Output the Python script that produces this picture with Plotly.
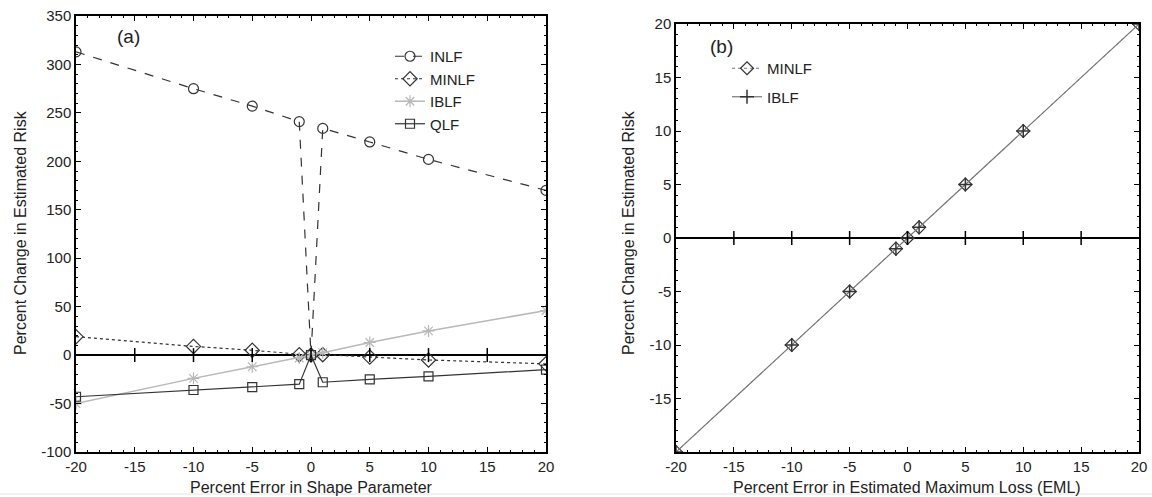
import plotly.graph_objects as go

# ---------------- data ----------------
x_shape = [-20, -10, -5, -1, 0, 1, 5, 10, 20]
inlf = [313, 275, 257, 241, 0, 234, 220, 202, 170]
minlf = [19, 9, 5, 0.5, 0, 0.5, -2, -5, -9]
iblf = [-50, -24, -12, -3, 0, 2.5, 13, 25, 46]
qlf = [-43, -36, -33, -30, 0, -28, -25, -22, -15]

x_eml = [-20, -10, -5, -1, 0, 1, 5, 10, 20]
minlf_b = [-20, -10, -5, -1, 0, 1, 5, 10, 20]
iblf_b = [-20, -10, -5, -1, 0, 1, 5, 10, 20]

zero_ticks = [-15, -10, -5, 0, 5, 10, 15]
ya_ticks = [-100, -50, 0, 50, 100, 150, 200, 250, 300, 350]
yb_ticks = [-15, -10, -5, 0, 5, 10, 15, 20]
x_ticks = [-20, -15, -10, -5, 0, 5, 10, 15, 20]

FONT = "Liberation Sans, Arial, sans-serif"
DARK = "#333333"
TXT = "#222222"

def labels(vals):
    return [str(v) for v in vals]  # hyphen-minus, as in the reference

fig = go.Figure()

# ---------------- panel (a) ----------------
fig.add_trace(go.Scatter(x=x_shape, y=inlf, name="INLF", mode="lines+markers",
                         line=dict(color=DARK, width=1.2, dash="dash"),
                         marker=dict(symbol="circle-open", size=10, color=DARK, line=dict(width=1.2)),
                         xaxis="x", yaxis="y", legend="legend"))
fig.add_trace(go.Scatter(x=x_shape, y=minlf, name="MINLF", mode="lines+markers",
                         line=dict(color=DARK, width=1.2, dash="dot"),
                         marker=dict(symbol="diamond-open", size=11, color=DARK, line=dict(width=1.2)),
                         xaxis="x", yaxis="y", legend="legend"))
fig.add_trace(go.Scatter(x=x_shape, y=iblf, name="IBLF", mode="lines+markers",
                         line=dict(color="#b8b8b8", width=1.5),
                         marker=dict(symbol="asterisk-open", size=10, color="#b8b8b8",
                                     line=dict(width=1.2, color="#b8b8b8")),
                         xaxis="x", yaxis="y", legend="legend"))
fig.add_trace(go.Scatter(x=x_shape, y=qlf, name="QLF", mode="lines+markers",
                         line=dict(color=DARK, width=1.2),
                         marker=dict(symbol="square-open", size=9, color=DARK, line=dict(width=1.2)),
                         xaxis="x", yaxis="y", legend="legend"))
fig.add_trace(go.Scatter(x=zero_ticks, y=[0] * len(zero_ticks), mode="markers", showlegend=False,
                         marker=dict(symbol="line-ns", size=10, line=dict(width=1.5, color="black")),
                         hoverinfo="skip", xaxis="x", yaxis="y"))

# ---------------- panel (b) ----------------
fig.add_trace(go.Scatter(x=x_eml, y=minlf_b, name="MINLF", mode="lines+markers",
                         line=dict(color="#777777", width=1, dash="dot"),
                         marker=dict(symbol="diamond-open", size=10, color=DARK, line=dict(width=1.2)),
                         xaxis="x2", yaxis="y2", legend="legend2", legendgroup="m"))
fig.add_trace(go.Scatter(x=x_eml, y=iblf_b, name="IBLF", mode="lines+markers",
                         line=dict(color="#777777", width=1.2),
                         marker=dict(symbol="cross-thin-open", size=10, color=DARK,
                                     line=dict(width=1.5, color=DARK)),
                         xaxis="x2", yaxis="y2", legend="legend2", legendgroup="i"))
fig.add_trace(go.Scatter(x=zero_ticks, y=[0] * len(zero_ticks), mode="markers", showlegend=False,
                         marker=dict(symbol="line-ns", size=10, line=dict(width=1.5, color="black")),
                         hoverinfo="skip", xaxis="x2", yaxis="y2"))

W, H = 1152, 497
def px(x):
    return x / W
def py(y):
    return 1 - y / H

axis_common = dict(showgrid=False, showline=True, linecolor="black", linewidth=1.5,
                   ticks="inside", ticklen=5, tickwidth=1, tickcolor="black", mirror="allticks",
                   ticklabeloverflow="allow",
                   tickfont=dict(family=FONT, size=15, color=TXT), automargin=False)

def ann(text, x, y, size=16, angle=0):
    return dict(text=text, x=px(x), y=py(y), xref="paper", yref="paper", showarrow=False,
                xanchor="center", yanchor="middle", textangle=angle,
                font=dict(family=FONT, size=size, color=TXT))

fig.update_layout(
    width=W, height=H,
    margin=dict(l=0, r=0, t=0, b=0),
    paper_bgcolor="white", plot_bgcolor="white",
    font=dict(family=FONT, size=16, color=TXT),
    xaxis=dict(domain=[px(76), px(546)], range=[-20, 20], tickvals=x_ticks, ticktext=labels(x_ticks),
               zeroline=False,
               minor=dict(ticks="inside", dtick=1, tick0=0, ticklen=2, tickcolor="black"),
               anchor="y", **axis_common),
    yaxis=dict(domain=[py(452), py(16)], range=[-100, 350], tickvals=ya_ticks, ticktext=labels(ya_ticks),
               zeroline=True, zerolinecolor="black", zerolinewidth=1.5,
               minor=dict(ticks="inside", dtick=10, tick0=0, ticklen=2, tickcolor="black"),
               anchor="x", **axis_common),
    xaxis2=dict(domain=[px(676), px(1139)], range=[-20, 20], tickvals=x_ticks, ticktext=labels(x_ticks),
                zeroline=False,
                minor=dict(ticks="inside", dtick=1, tick0=0, ticklen=2, tickcolor="black"),
                anchor="y2", **axis_common),
    yaxis2=dict(domain=[py(452), py(24)], range=[-20, 20], tickvals=yb_ticks, ticktext=labels(yb_ticks),
                zeroline=True, zerolinecolor="black", zerolinewidth=1.5,
                minor=dict(ticks="inside", dtick=1, tick0=0, ticklen=2, tickcolor="black"),
                anchor="x2", **axis_common),
    legend=dict(x=px(390), y=py(40), xanchor="left", yanchor="top", bgcolor="rgba(0,0,0,0)",
                font=dict(family=FONT, size=15, color=TXT), itemwidth=30, tracegroupgap=0),
    legend2=dict(x=px(727), y=py(52), xanchor="left", yanchor="top", bgcolor="rgba(0,0,0,0)",
                 font=dict(family=FONT, size=15, color=TXT), itemwidth=30,
                 traceorder="grouped", tracegroupgap=6),
    annotations=[
        ann("(a)", 128, 36, size=19),
        ann("(b)", 721, 47, size=19),
        ann("Percent Error in Shape Parameter", 311, 487),
        ann("Percent Error in Estimated Maximum Loss (EML)", 907, 487),
        ann("Percent Change in Estimated Risk", 20, 233, angle=-90),
        ann("Percent Change in Estimated Risk", 628, 233, angle=-90),
    ],
    shapes=[dict(type="line", xref="paper", yref="paper", x0=0, x1=1, y0=py(494), y1=py(494),
                 line=dict(color="#e4e4e4", width=1))],
)

# remove the default page margin so the figure fills the window exactly
fig.write_html("out.html",
               config={"displayModeBar": False},
               post_script="document.body.style.margin='0';"
                           "document.documentElement.style.overflow='hidden';")
